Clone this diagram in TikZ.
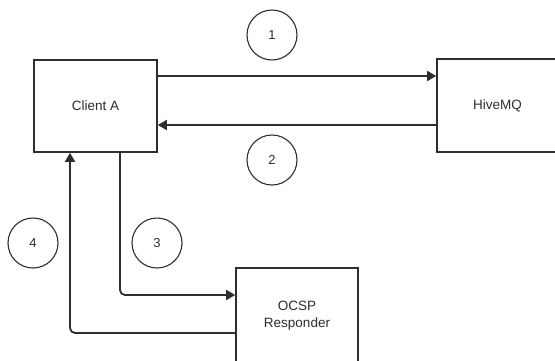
\documentclass[tikz,border=0pt]{standalone}
\usepackage{fontspec}
\setmainfont{Liberation Sans}
\usetikzlibrary{arrows.meta,calc}
\definecolor{ink}{HTML}{2E2E2E}
\begin{document}
\begin{tikzpicture}[x=1pt,y=-1pt,
  box/.style={draw=ink,line width=1.6pt,fill=white,minimum width=#1,inner sep=0pt,align=center,font=\fontsize{13.5}{17}\selectfont,text=ink},
  num/.style={draw=ink,line width=1.1pt,circle,minimum size=50pt,inner sep=0pt,font=\fontsize{13}{15}\selectfont,text=ink},
  conn/.style={draw=ink,line width=1.8pt,-{Triangle[length=9pt,width=10pt]},rounded corners=5pt}]
\useasboundingbox (0,0) rectangle (555,360);
\clip (0,0) rectangle (555,360);
\node[box=123pt,minimum height=92pt] (cA) at (95.5,106) {Client A};
\node[box=121pt,minimum height=93pt] (hm) at (497.5,105.5) {HiveMQ};
\node[box=122pt,minimum height=96pt] (oc) at (297,316) {OCSP\\Responder};
\node[num] (n1) at (272,35) {1};
\node[num] (n2) at (272,160) {2};
\node[num] (n3) at (157,243) {3};
\node[num] (n4) at (33,243) {4};
\draw[conn] ([yshift=30pt]cA.east) -- ([yshift=30pt]cA.east -| hm.west);
\draw[conn] ([yshift=-19.5pt]hm.west) -- ([yshift=-19.5pt]hm.west -| cA.east);
\draw[conn] ([xshift=24.5pt]cA.south) |- ([yshift=21pt]oc.west);
\draw[conn] ([yshift=-17pt]oc.west) -| ([xshift=-25.5pt]cA.south);
\end{tikzpicture}
\end{document}
